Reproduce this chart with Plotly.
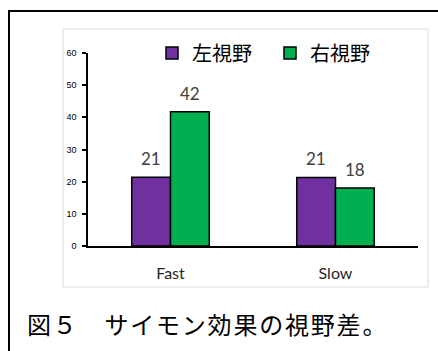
import plotly.graph_objects as go

# Data
categories = ["Fast", "Slow"]
left_field = [21.4, 21.3]
right_field = [41.7, 18.0]
series_names = ["左視野", "右視野"]
y_ticks = [0, 10, 20, 30, 40, 50, 60]
caption = "図５　サイモン効果の視野差。"

PURPLE = "#7030A0"
GREEN = "#00B050"
LABEL_GRAY = "#404040"

W, H = 438, 351
ML, MR, MT, MB = 88, 20, 53, 105
PW, PH = W - ML - MR, H - MT - MB


def px_x(p):
    return (p - ML) / PW


def px_y(p):
    return (H - MB - p) / PH


fig = go.Figure()
for name, vals, color, leg in [(series_names[0], left_field, PURPLE, "legend"),
                               (series_names[1], right_field, GREEN, "legend2")]:
    fig.add_trace(go.Bar(
        x=categories, y=vals, name=name, legend=leg,
        marker=dict(color=color, line=dict(color="black", width=1.5)),
    ))

# value labels above each bar
group_w = 0.47
bar_w = group_w / 2
annotations = []
for si, vals in enumerate([left_field, right_field]):
    off = -bar_w / 2 if si == 0 else bar_w / 2
    for ci, v in enumerate(vals):
        annotations.append(dict(
            x=ci + off, y=v, xref="x", yref="y",
            text=f"{v:.0f}", showarrow=False,
            yanchor="bottom", yshift=6,
            font=dict(family="Lato, Open Sans, sans-serif", size=17, color=LABEL_GRAY),
        ))

# figure caption, spaced out slightly
annotations.append(dict(
    x=px_x(25), y=px_y(323), xref="paper", yref="paper",
    xanchor="left", yanchor="middle", showarrow=False,
    text=f'<span style="letter-spacing:1.8px">{caption}</span>',
    font=dict(family="Noto Sans CJK JP", size=24, color="black"),
))

shapes = [
    # light chart-area border
    dict(type="rect", xref="paper", yref="paper",
         x0=px_x(63), x1=px_x(428), y0=px_y(287), y1=px_y(29),
         line=dict(color="#d9d9d9", width=1), layer="below"),
    # outer frame (left and top edges)
    dict(type="path", xref="paper", yref="paper",
         path=f"M {px_x(9)} {px_y(360)} L {px_x(9)} {px_y(11)} L {px_x(445)} {px_y(11)}",
         line=dict(color="black", width=2)),
]

legend_style = dict(orientation="h", xanchor="left",
                    y=px_y(53), yanchor="middle",
                    font=dict(family="Noto Sans CJK JP", size=20, color="black"),
                    bgcolor="rgba(0,0,0,0)", itemwidth=30)

fig.update_layout(
    width=W, height=H,
    margin=dict(l=ML, r=MR, t=MT, b=MB, pad=0),
    paper_bgcolor="white", plot_bgcolor="white",
    barmode="group", bargap=1 - group_w, bargroupgap=0,
    showlegend=True,
    legend=dict(x=px_x(152), **legend_style),
    legend2=dict(x=px_x(270), **legend_style),
    xaxis=dict(showline=True, linecolor="black", linewidth=1.5,
               showgrid=False, ticks="", ticklabelstandoff=12,
               tickfont=dict(family="Lato, Open Sans, sans-serif", size=16, color="#262626"),
               zeroline=False),
    yaxis=dict(range=[0, 60], tickvals=y_ticks, showline=True,
               linecolor="black", linewidth=1.5, showgrid=False,
               ticks="outside", ticklen=4, tickwidth=1.5, tickcolor="black",
               ticklabelstandoff=4,
               tickfont=dict(family="Liberation Sans, Arial", size=9, color="black"),
               zeroline=False),
    annotations=annotations,
    shapes=shapes,
)

fig.write_html("out.html")
